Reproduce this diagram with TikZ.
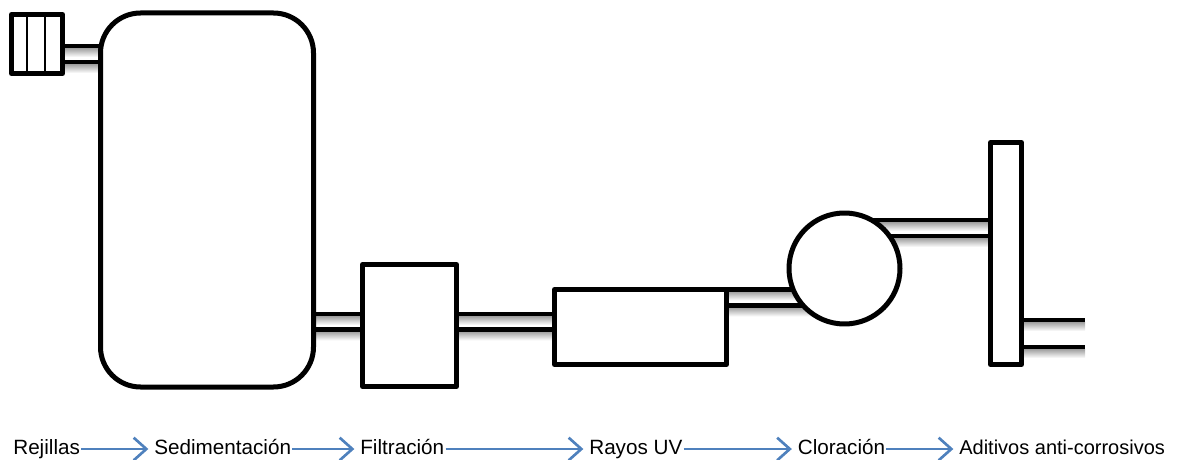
\documentclass[tikz,border=0pt]{standalone}
\usepackage{fontspec}
\setmainfont{Liberation Sans}
\usetikzlibrary{arrows.meta,backgrounds}
\definecolor{flowblue}{HTML}{4F81BD}
\tikzset{
  unit/.style={draw=black,fill=white,line width=3.75pt,line join=round,inner sep=0pt,outer sep=0pt},
  pipeline/.style={draw=black,line width=3.6pt},
  pipeshade/.style={top color=black!38,bottom color=white,draw=none},
  stage/.style={inner sep=0pt,outer sep=1pt,anchor=west,font=\fontsize{15.5}{18}\selectfont,text height=11.5pt,text depth=3pt},
  flow/.style={draw=flowblue,line width=2pt,shorten >=3.5pt,-{Straight Barb[length=9.5pt,width=17pt,line width=2pt]}}
}
\newcommand{\pipeat}[3]{%
  \fill[pipeshade] (#1 |- 0,#3+2) rectangle (#2 |- 0,#3+11);
  \draw[pipeline] (#1 |- 0,#3) -- (#2 |- 0,#3);
}
\begin{document}
\begin{tikzpicture}[x=0.75pt,y=-0.75pt]
      \useasboundingbox (0,0) rectangle (1183,460);

      \node[unit,minimum width=38.25pt,minimum height=44.25pt] (rejilla) at (37,44) {};
      \node[unit,rounded corners=30pt,minimum width=159.75pt,minimum height=280.5pt] (tank) at (207,200) {};
      \node[unit,minimum width=70.5pt,minimum height=91.5pt] (filter) at (409.5,325.5) {};
      \node[unit,minimum width=129pt,minimum height=56.25pt] (uvlamp) at (640.5,327) {};
      \node[unit,circle,minimum size=83.25pt] (clorine) at (844.5,268.5) {};
      \node[unit,minimum width=23.25pt,minimum height=166.5pt] (additive) at (1006,253.5) {};
      \coordinate (outlet) at (1085,320);

      % rejilla bars
      \foreach \x in {27,45}
        \draw[black,line width=1.8pt] (\x,0 |- rejilla.north) -- (\x,0 |- rejilla.south);

      % pipes, behind the units
      \begin{scope}[on background layer]
        \pipeat{rejilla.center}{tank.center}{46}
        \pipeat{rejilla.center}{tank.center}{62}
        \pipeat{tank.center}{filter.center}{314}
        \pipeat{tank.center}{filter.center}{329.5}
        \pipeat{filter.center}{uvlamp.center}{314}
        \pipeat{filter.center}{uvlamp.center}{329.5}
        \pipeat{uvlamp.center}{clorine.center}{289.5}
        \pipeat{uvlamp.center}{clorine.center}{305.5}
        \pipeat{clorine.center}{additive.center}{220}
        \pipeat{clorine.center}{additive.center}{236}
        \pipeat{additive.center}{outlet}{320}
        \pipeat{additive.center}{outlet}{347}
      \end{scope}

      \node[stage] (rej) at (12,449) {Rejillas};
      \node[stage] (sed) at (153,449) {Sedimentación};
      \node[stage] (fil) at (359,449) {Filtración};
      \node[stage] (ray) at (588,449) {Rayos UV};
      \node[stage] (clo) at (796.5,449) {Cloración};
      \node[stage,font=\fontsize{15}{18}\selectfont] (adi) at (958,449) {Aditivos anti-corrosivos};

      \draw[flow] (rej) -- (sed);
      \draw[flow] (sed) -- (fil);
      \draw[flow] (fil) -- (ray);
      \draw[flow] (ray) -- (clo);
      \draw[flow] (clo) -- (adi);

    \end{tikzpicture}
\end{document}
